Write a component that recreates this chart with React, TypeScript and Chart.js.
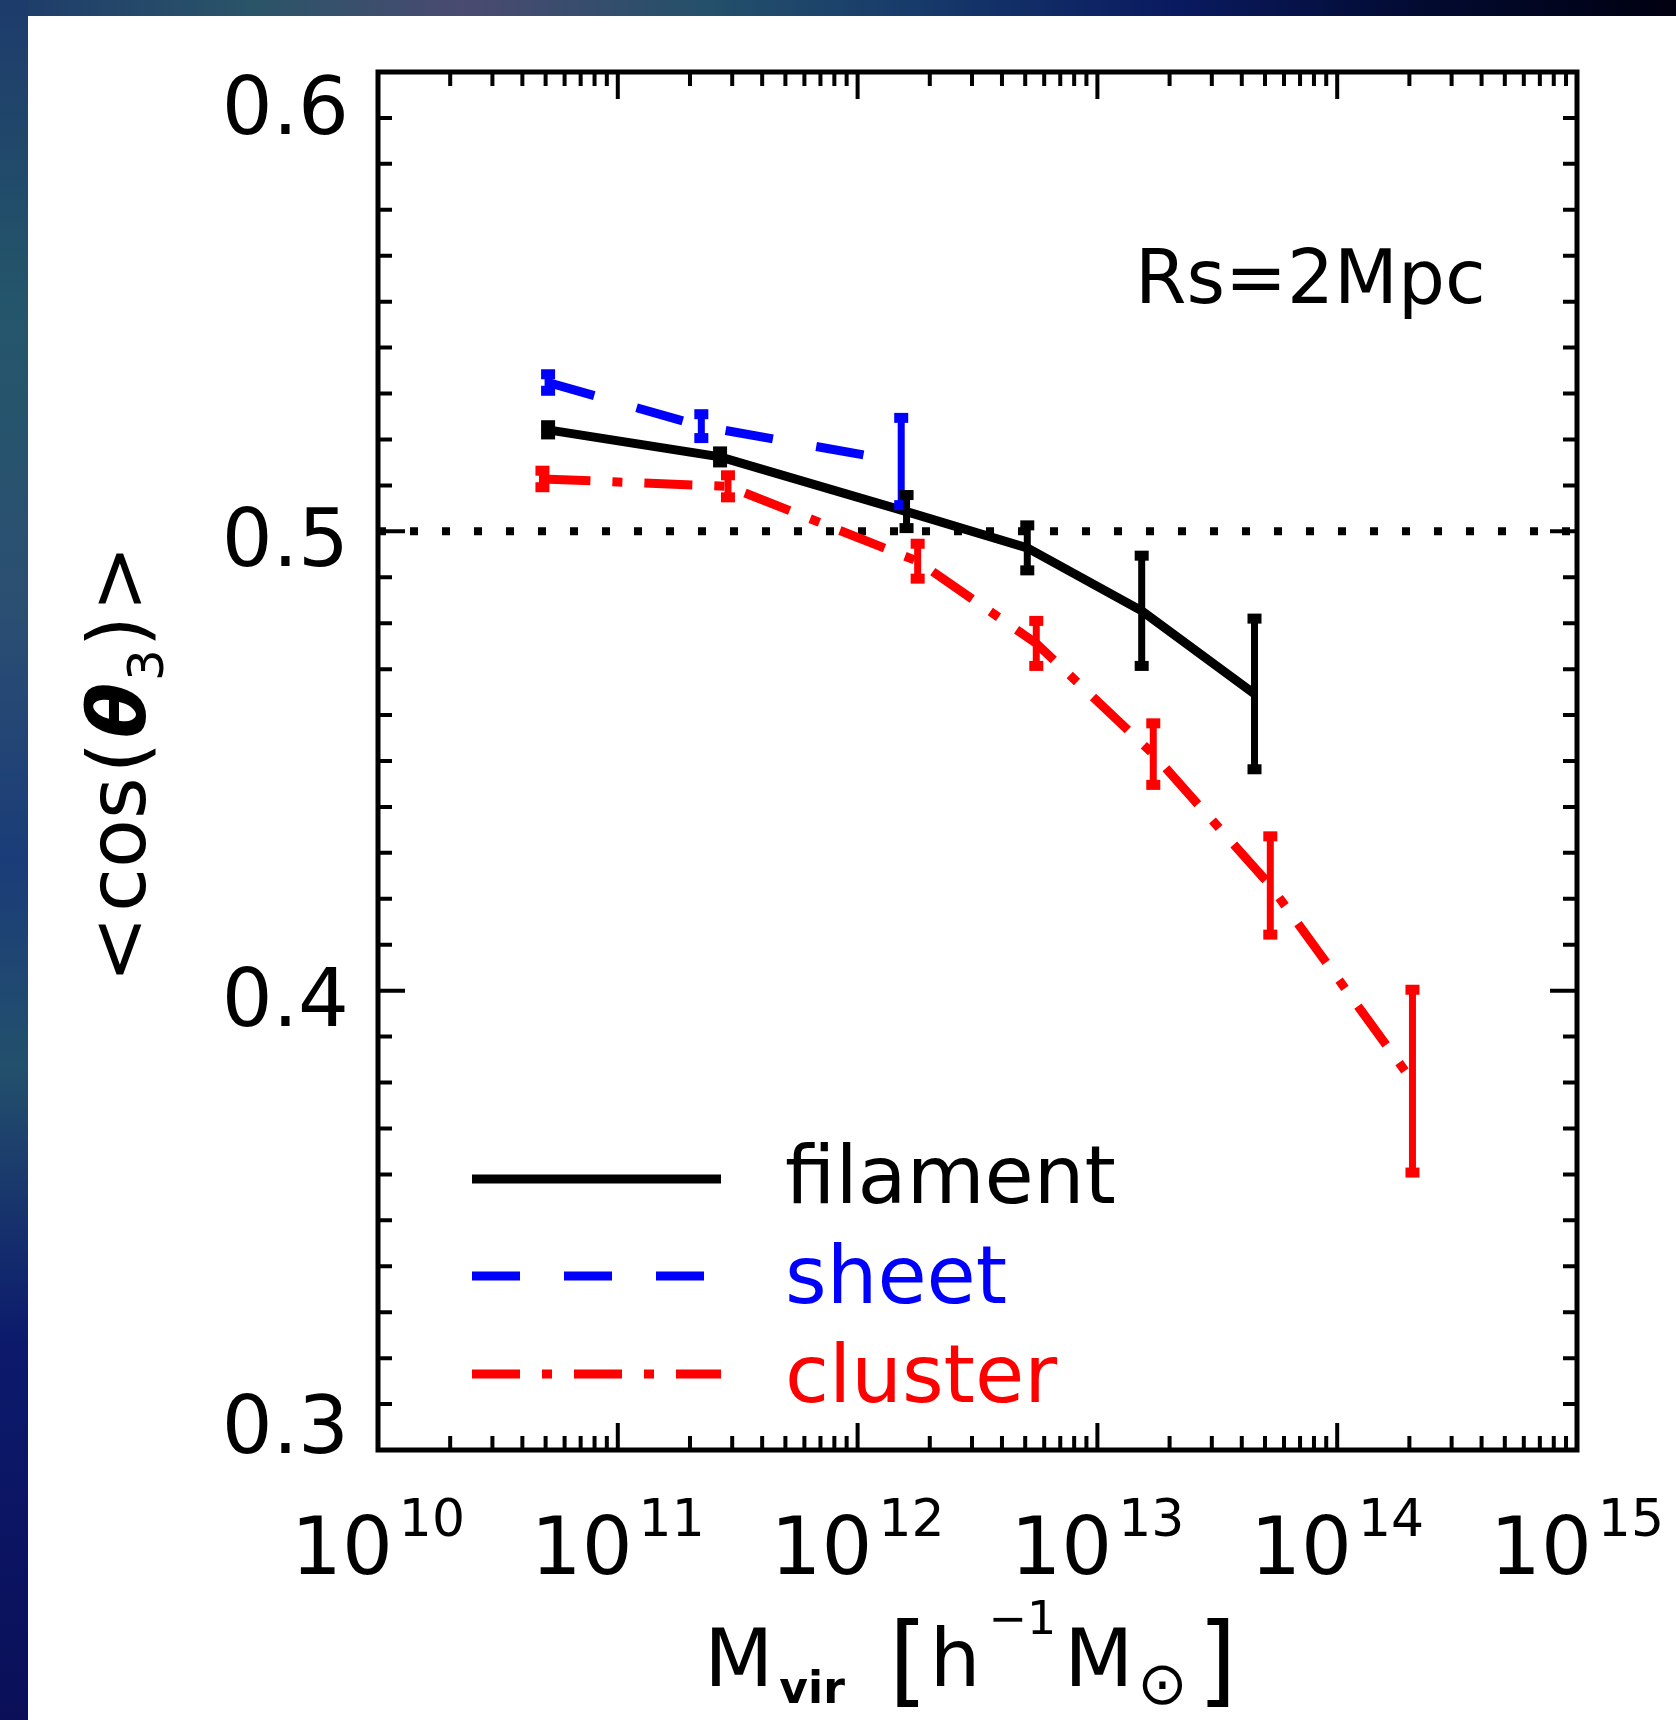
import { useEffect, useRef } from "react";
import { Chart, registerables } from "chart.js";

Chart.register(...registerables);

// ---------------- data ----------------
const X_MIN = 1e10;
const X_MAX = 1e15;
const Y_MIN = 0.3;
const Y_MAX = 0.6;

const xDecadeExponents = [10, 11, 12, 13, 14, 15];
const yMajorTicks = [0.3, 0.4, 0.5, 0.6];
const yTickLabels = ["0.3", "0.4", "0.5", "0.6"];

const filamentMass = [5.12e10, 2.67e11, 1.6e12, 5.1e12, 1.53e13, 4.52e13];
const filamentCos = [0.5221, 0.5162, 0.5043, 0.4964, 0.4827, 0.4646];
const filamentErr = [0.001, 0.0012, 0.0036, 0.0049, 0.012, 0.0164];

const sheetMass = [5.12e10, 2.23e11, 1.52e12];
const sheetCos = [0.5324, 0.5229, 0.5152];
const sheetErr = [0.0018, 0.0026, 0.0095];

const clusterMass = [4.85e10, 2.88e11, 1.78e12, 5.56e12, 1.71e13, 5.26e13, 2.06e14];
const clusterCos = [0.5114, 0.5098, 0.4935, 0.4756, 0.4515, 0.4229, 0.3803];
const clusterErr = [0.0018, 0.0024, 0.0038, 0.0049, 0.0067, 0.0107, 0.0199];

const randomLevel = 0.5;
const seriesNames = ["filament", "sheet", "cluster"];
const seriesColors = ["#000000", "#0000ff", "#ff0000"];
const seriesDashes: number[][] = [[], [48, 44], [48, 22, 10, 22]];
const annotationText = "Rs=2Mpc";

// ---------------- layout ----------------
const W = 1676;
const H = 1720;
const AREA = { left: 378, top: 72, right: 1577, bottom: 1450 };
const FONT = '"DejaVu Sans", sans-serif';
const LINE_W = 9;

type Part = { text: string; size: number; weight?: string; style?: string; dy?: number; gap?: number };

function fontOf(p: Part) {
  return `${p.style || "normal"} ${p.weight || "normal"} ${p.size}px ${FONT}`;
}

function drawRich(ctx: CanvasRenderingContext2D, parts: Part[], x: number, y: number, align: "left" | "center" | "right") {
  const widths = parts.map((p) => {
    ctx.font = fontOf(p);
    return ctx.measureText(p.text).width;
  });
  let total = 0;
  parts.forEach((p, i) => (total += widths[i] + (p.gap || 0)));
  let cx = align === "center" ? x - total / 2 : align === "right" ? x - total : x;
  ctx.textAlign = "left";
  ctx.textBaseline = "alphabetic";
  parts.forEach((p, i) => {
    cx += p.gap || 0;
    ctx.font = fontOf(p);
    ctx.fillText(p.text, cx, y + (p.dy || 0));
    cx += widths[i];
  });
}

function toPoints(xs: number[], ys: number[]) {
  return xs.map((x, i) => ({ x, y: ys[i] }));
}

const decorPlugin = {
  id: "decor",
  beforeDraw(chart: any) {
    const ctx: CanvasRenderingContext2D = chart.ctx;
    ctx.save();
    const gv = ctx.createLinearGradient(0, 0, 0, H);
    gv.addColorStop(0, "#1d3b6b");
    gv.addColorStop(0.18, "#24566a");
    gv.addColorStop(0.35, "#2b4f72");
    gv.addColorStop(0.5, "#1a3c78");
    gv.addColorStop(0.62, "#23506c");
    gv.addColorStop(0.78, "#0c1a6c");
    gv.addColorStop(1, "#0a0f58");
    ctx.fillStyle = gv;
    ctx.fillRect(0, 0, W, H);
    const gh = ctx.createLinearGradient(0, 0, W, 0);
    gh.addColorStop(0, "#1d3b6b");
    gh.addColorStop(0.15, "#2a5468");
    gh.addColorStop(0.28, "#4a4a70");
    gh.addColorStop(0.42, "#24506a");
    gh.addColorStop(0.55, "#163a6a");
    gh.addColorStop(0.7, "#0a1a60");
    gh.addColorStop(0.85, "#020a30");
    gh.addColorStop(1, "#000010");
    ctx.fillStyle = gh;
    ctx.fillRect(28, 0, W - 28, 16);
    ctx.fillStyle = "#ffffff";
    ctx.fillRect(28, 16, W - 28, H - 16);
    ctx.restore();
  },
  afterDatasetsDraw(chart: any) {
    const ctx: CanvasRenderingContext2D = chart.ctx;
    const sx = chart.scales.x;
    const sy = chart.scales.y;
    const sets = [
      { m: clusterMass, v: clusterCos, e: clusterErr, c: seriesColors[2] },
      { m: sheetMass, v: sheetCos, e: sheetErr, c: seriesColors[1] },
      { m: filamentMass, v: filamentCos, e: filamentErr, c: seriesColors[0] },
    ];
    ctx.save();
    ctx.setLineDash([]);
    sets.forEach((s) => {
      ctx.strokeStyle = s.c;
      ctx.fillStyle = s.c;
      ctx.lineWidth = 7;
      s.m.forEach((m, i) => {
        const px = sx.getPixelForValue(m);
        const top = sy.getPixelForValue(s.v[i] + s.e[i]);
        const bot = sy.getPixelForValue(s.v[i] - s.e[i]);
        ctx.beginPath();
        ctx.moveTo(px, top);
        ctx.lineTo(px, bot);
        ctx.stroke();
        ctx.fillRect(px - 7, top - 5, 14, 10);
        ctx.fillRect(px - 7, bot - 5, 14, 10);
      });
    });
    ctx.restore();
  },
  afterDraw(chart: any) {
    const ctx: CanvasRenderingContext2D = chart.ctx;
    const sx = chart.scales.x;
    const sy = chart.scales.y;
    const { left, right, top, bottom } = chart.chartArea;
    ctx.save();
    ctx.setLineDash([]);
    ctx.strokeStyle = "#000";
    ctx.fillStyle = "#000";
    ctx.lineWidth = 5;
    ctx.strokeRect(left, top, right - left, bottom - top);
    ctx.lineWidth = 4;
    for (let e = 10; e < 15; e++) {
      for (let k = 1; k <= 9; k++) {
        const v = k * Math.pow(10, e);
        const px = sx.getPixelForValue(v);
        const len = k === 1 ? 27 : 14;
        ctx.beginPath();
        ctx.moveTo(px, bottom);
        ctx.lineTo(px, bottom - len);
        ctx.moveTo(px, top);
        ctx.lineTo(px, top + len);
        ctx.stroke();
      }
    }
    for (let i = 0; i <= 30; i++) {
      const v = Y_MIN + i * 0.01;
      const py = sy.getPixelForValue(v);
      const len = i % 10 === 0 ? 27 : 14;
      ctx.beginPath();
      ctx.moveTo(left, py);
      ctx.lineTo(left + len, py);
      ctx.moveTo(right, py);
      ctx.lineTo(right - len, py);
      ctx.stroke();
    }
    yMajorTicks.forEach((v, i) => {
      const py = sy.getPixelForValue(v);
      const base = Math.min(Math.max(py + 35, top + 62), bottom + 3);
      drawRich(ctx, [{ text: yTickLabels[i], size: 80 }], left - 29, base, "right");
    });
    xDecadeExponents.forEach((e) => {
      const px = sx.getPixelForValue(Math.pow(10, e));
      drawRich(
        ctx,
        [
          { text: "10", size: 80 },
          { text: String(e), size: 52, dy: -38, gap: 6 },
        ],
        px,
        1574,
        "center"
      );
    });
    drawRich(
      ctx,
      [
        { text: "M", size: 80 },
        { text: "vir", size: 44, weight: "bold", dy: 17, gap: 6 },
        { text: "[", size: 100, dy: 8, gap: 44 },
        { text: "h", size: 80, gap: 2 },
        { text: "\u22121", size: 46, dy: -52, gap: 8 },
        { text: "M", size: 80, gap: 8 },
        { text: "\u2299", size: 60, dy: 18, gap: 4 },
        { text: "]", size: 100, dy: 8, gap: 10 },
      ],
      (left + right) / 2 - 7,
      1686,
      "center"
    );
    ctx.save();
    ctx.translate(145, (top + bottom) / 2 + 3);
    ctx.rotate(-Math.PI / 2);
    drawRich(
      ctx,
      [
        { text: "<", size: 80 },
        { text: "cos", size: 80, gap: 4 },
        { text: "(", size: 80, gap: 4 },
        { text: "\u03b8", size: 80, weight: "bold", style: "italic", gap: 4 },
        { text: "3", size: 50, dy: 18, gap: 2 },
        { text: ")", size: 80, gap: 2 },
        { text: ">", size: 80, gap: 4 },
      ],
      0,
      0,
      "center"
    );
    ctx.restore();
    drawRich(ctx, [{ text: annotationText, size: 74 }], 1135, 303, "left");
    const legendY = [1179, 1276, 1374];
    const legendBase = [1203, 1303, 1402];
    seriesNames.forEach((name, i) => {
      ctx.strokeStyle = seriesColors[i];
      ctx.lineWidth = LINE_W;
      ctx.lineCap = "butt";
      ctx.setLineDash(seriesDashes[i]);
      ctx.beginPath();
      ctx.moveTo(472, legendY[i]);
      ctx.lineTo(721, legendY[i]);
      ctx.stroke();
      ctx.setLineDash([]);
      ctx.fillStyle = seriesColors[i];
      drawRich(ctx, [{ text: name, size: 80 }], 785, legendBase[i], "left");
    });
    ctx.restore();
  },
};

export default function App() {
  const canvasRef = useRef<HTMLCanvasElement | null>(null);

  useEffect(() => {
    const canvas = canvasRef.current;
    if (!canvas) return;
    const chart = new Chart(canvas, {
      type: "line",
      data: {
        datasets: [
          {
            label: seriesNames[0],
            data: toPoints(filamentMass, filamentCos),
            borderColor: seriesColors[0],
            borderWidth: LINE_W,
            borderDash: seriesDashes[0],
            pointRadius: 0,
            tension: 0,
            fill: false,
            order: 1,
          },
          {
            label: seriesNames[1],
            data: toPoints(sheetMass, sheetCos),
            borderColor: seriesColors[1],
            borderWidth: LINE_W,
            borderDash: seriesDashes[1],
            pointRadius: 0,
            tension: 0,
            fill: false,
            order: 2,
          },
          {
            label: seriesNames[2],
            data: toPoints(clusterMass, clusterCos),
            borderColor: seriesColors[2],
            borderWidth: LINE_W,
            borderDash: seriesDashes[2],
            pointRadius: 0,
            tension: 0,
            fill: false,
            order: 3,
          },
          {
            label: "random",
            data: [
              { x: X_MIN, y: randomLevel },
              { x: X_MAX, y: randomLevel },
            ],
            borderColor: "#000000",
            borderWidth: 8,
            borderDash: [8, 24],
            pointRadius: 0,
            fill: false,
            order: 10,
          },
        ],
      },
      options: {
        animation: false,
        responsive: false,
        devicePixelRatio: 1,
        layout: {
          padding: { left: AREA.left, top: AREA.top, right: W - AREA.right, bottom: H - AREA.bottom },
        },
        plugins: {
          legend: { display: false },
          tooltip: { enabled: false },
        },
        scales: {
          x: { type: "logarithmic", min: X_MIN, max: X_MAX, display: false },
          y: { type: "linear", min: Y_MIN, max: Y_MAX, display: false },
        },
      },
      plugins: [decorPlugin],
    } as any);
    return () => chart.destroy();
  }, []);

  return (
    <div style={{ position: "fixed", left: 0, top: 0, width: W, height: H }}>
      <canvas ref={canvasRef} width={W} height={H} style={{ width: W, height: H, display: "block" }} />
    </div>
  );
}
